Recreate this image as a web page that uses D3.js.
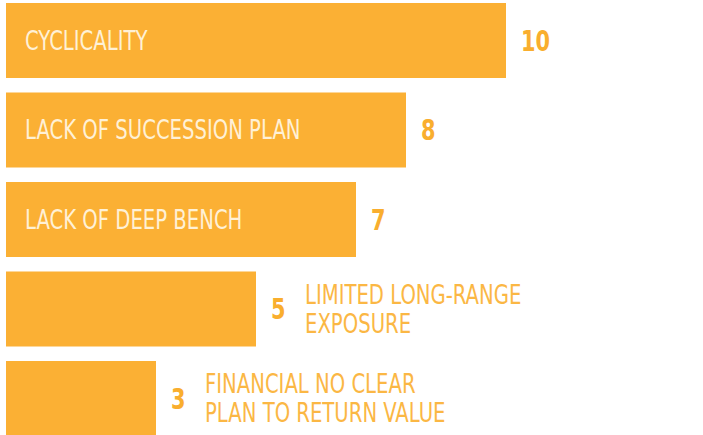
<!DOCTYPE html>
<html>
<head>
<meta charset="utf-8">
<script src="https://cdn.jsdelivr.net/npm/d3@7"></script>
<style>
  html, body { margin: 0; padding: 0; background: #ffffff; }
  svg { display: block; }
  text { font-family: "DejaVu Sans Condensed", "Liberation Sans Narrow", sans-serif; }
</style>
</head>
<body>
<svg id="chart" width="703" height="435"></svg>
<script>
const categories = [
  "CYCLICALITY",
  "LACK OF SUCCESSION PLAN",
  "LACK OF DEEP BENCH",
  "LIMITED LONG-RANGE\nEXPOSURE",
  "FINANCIAL NO CLEAR\nPLAN TO RETURN VALUE"
];
const values = [10, 8, 7, 5, 3];
const labelInside = [true, true, true, false, false];

const barColor = "#FBB034";
const insideText = "#FFF1D6";
const numColor = "#F9AE2E";
const outsideText = "#FBB744";

const svg = d3.select("#chart");

const x = d3.scaleLinear().domain([0, 10]).range([6, 506]);
const y = d3.scaleBand().domain(categories).range([3, 436]).paddingInner(0.162).paddingOuter(0);

const data = categories.map((c, i) => ({ cat: c, value: values[i], inside: labelInside[i] }));

const g = svg.append("g");

g.selectAll("rect.bar")
  .data(data)
  .join("rect")
  .attr("class", "bar")
  .attr("x", x(0))
  .attr("y", d => y(d.cat))
  .attr("width", d => x(d.value) - x(0))
  .attr("height", y.bandwidth())
  .attr("fill", barColor);

const fsLabel = 26;
const sxLabel = 0.84;
const fsNum = 29;
const sxNum = 0.8;

// inside labels
g.selectAll("text.inlabel")
  .data(data.filter(d => d.inside))
  .join("text")
  .attr("class", "inlabel")
  .attr("transform", d => `translate(${x(0) + 19},${y(d.cat) + y.bandwidth() / 2 + fsLabel * 0.36}) scale(${sxLabel},1)`)
  .attr("fill", insideText)
  .attr("font-size", fsLabel)
  .text(d => d.cat);

// value numbers
g.selectAll("text.num")
  .data(data)
  .join("text")
  .attr("class", "num")
  .attr("transform", d => `translate(${x(d.value) + 15},${y(d.cat) + y.bandwidth() / 2 + fsNum * 0.36}) scale(${sxNum},1)`)
  .attr("fill", numColor)
  .attr("font-size", fsNum)
  .attr("font-weight", "bold")
  .text(d => d.value);

// outside labels (multi-line)
const lineH = 29;
g.selectAll("text.outlabel")
  .data(data.filter(d => !d.inside))
  .join("text")
  .attr("class", "outlabel")
  .attr("fill", outsideText)
  .attr("font-size", fsLabel)
  .each(function(d) {
    const lines = d.cat.split("\n");
    const cy = y(d.cat) + y.bandwidth() / 2;
    const startY = cy - (lines.length - 1) * lineH / 2 + fsLabel * 0.36;
    const tx = x(d.value) + 49;
    const t = d3.select(this).attr("transform", `translate(${tx},${startY}) scale(${sxLabel},1)`);
    t.selectAll("tspan")
      .data(lines)
      .join("tspan")
      .attr("x", 0)
      .attr("y", (l, i) => i * lineH)
      .text(l => l);
  });
</script>
</body>
</html>
